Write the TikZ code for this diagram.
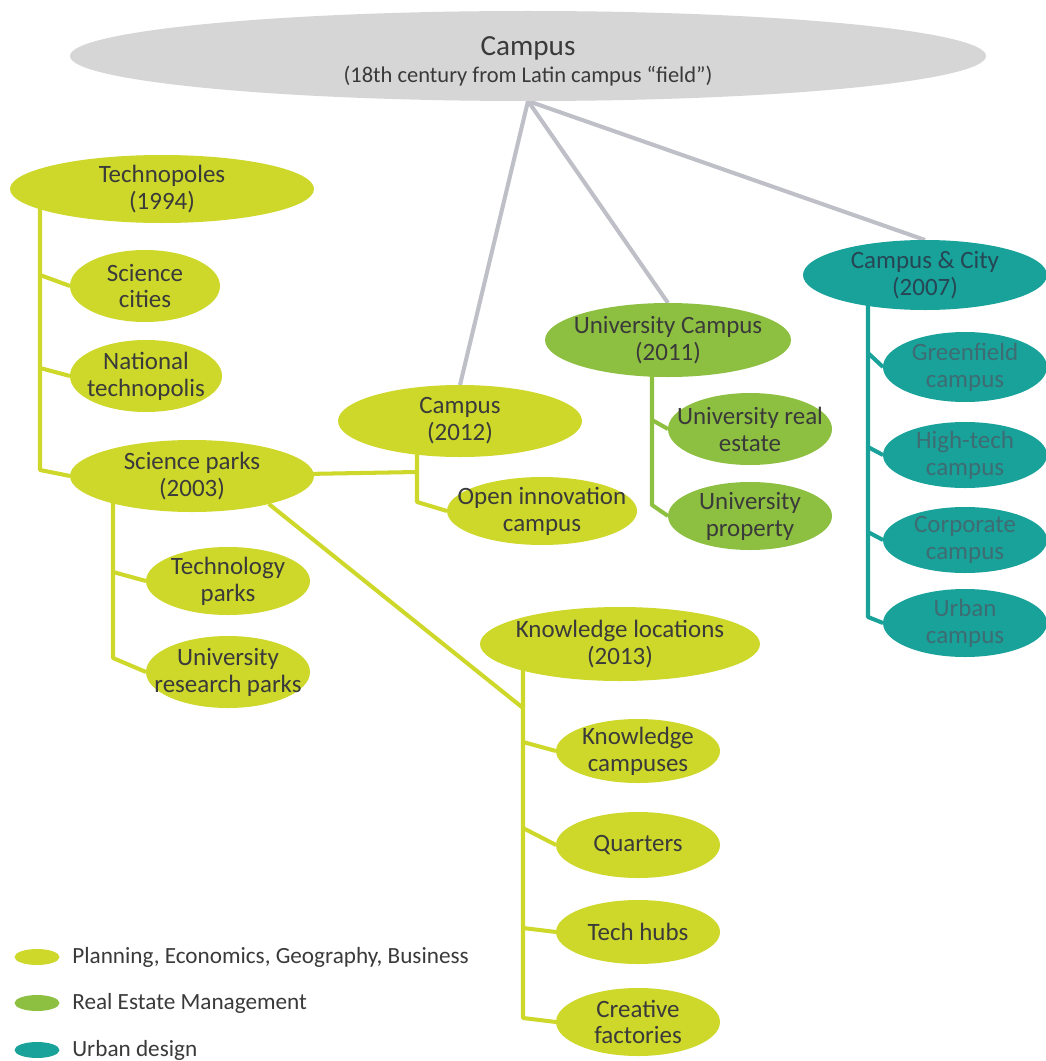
\documentclass[tikz,border=0pt]{standalone}
\usepackage{fontspec}
\setmainfont{Carlito}
\usetikzlibrary{shapes.geometric,backgrounds}

% one drawing unit = one pixel of the layout grid
\newlength\upx
\setlength\upx{0.02cm}

\definecolor{lime}{RGB}{205,216,42}
\definecolor{leaf}{RGB}{141,192,64}
\definecolor{sea}{RGB}{24,162,154}
\definecolor{mist}{RGB}{214,214,214}
\definecolor{wire}{RGB}{190,191,199}
\definecolor{ink}{RGB}{58,58,58}
\definecolor{seaink}{RGB}{38,70,84}
\definecolor{seasub}{RGB}{62,108,114}

\tikzset{
  blob/.style={ellipse, inner sep=0pt, outer sep=0pt, draw=none},
  limeblob/.style={blob, fill=lime},
  leafblob/.style={blob, fill=leaf},
  seablob/.style={blob, fill=sea},
  mistblob/.style={blob, fill=mist},
  lbl/.style={align=center, text=ink, inner sep=0pt,
              font=\fontsize{14.2}{15.3}\selectfont},
  legtxt/.style={anchor=west, text=ink, inner sep=0pt,
                 font=\fontsize{13.2}{15}\selectfont},
  link/.style={line width=2.3pt, line join=round},
  limeline/.style={link, draw=lime},
  leafline/.style={link, draw=leaf},
  sealine/.style={link, draw=sea},
  wireline/.style={link, draw=wire},
}

% \bubble[label options]{name}{fill style}{x,y}{width}{height}{text}
\newcommand\bubble[7][]{%
  \node[#3, minimum width=#5\upx, minimum height=#6\upx] (#2) at (#4) {};
  \node[lbl,#1] (#2-txt) at (#2.center) {#7};}

\begin{document}
\begin{tikzpicture}[x=0.02cm, y=-0.02cm]
\useasboundingbox (0,0) rectangle (1045,1061);

% ---- root ----
\bubble[yshift=-3.2pt]{top}{mistblob}{528,56}{916}{90}{%
  {\fontsize{16.6}{17}\selectfont Campus}\\[0pt]
  {\fontsize{12.8}{14}\selectfont (18th century from Latin campus “field”)}}

% ---- technopoles branch ----
\bubble{techno}{limeblob}{162,189}{304}{68}{Technopoles\\(1994)}
\bubble{cities}{limeblob}{145,286}{150}{72}{Science\\cities}
\bubble{natl}{limeblob}{146,376}{152}{72}{National\\technopolis}
\bubble{sparks}{limeblob}{192,476}{244}{72}{Science parks\\(2003)}
\bubble{tpark}{limeblob}{228,581}{164}{68}{Technology\\parks}
\bubble{urp}{limeblob}{228,672}{164}{72}{University\\research parks}

% ---- campus 2012 ----
\bubble{cmp}{limeblob}{460,421}{244}{72}{Campus\\(2012)}
\bubble{open}{limeblob}{542,511}{190}{68}{Open innovation\\campus}

% ---- knowledge locations ----
\bubble{kloc}{limeblob}{620,644}{280}{74}{Knowledge locations\\(2013)}
\bubble{kcamp}{limeblob}{638,751}{164}{64}{Knowledge\\campuses}
\bubble{quart}{limeblob}{638,845}{164}{66}{Quarters}
\bubble{thubs}{limeblob}{638,932}{164}{64}{Tech hubs}
\bubble{creat}{limeblob}{638,1022}{164}{68}{Creative\\factories}

% ---- university campus ----
\bubble{ucamp}{leafblob}{668,340}{246}{74}{University Campus\\(2011)}
\bubble{ure}{leafblob}{750,429}{164}{72}{University real\\estate}
\bubble{uprop}{leafblob}{750,516}{164}{68}{University\\property}

% ---- campus & city ----
\bubble[text=seaink]{cc}{seablob}{925,275}{244}{70}{Campus \& City\\(2007)}
\bubble[text=seasub]{green}{seablob}{965,367}{164}{70}{Greenfield\\campus}
\bubble[text=seasub]{htech}{seablob}{965,455}{164}{66}{High-tech\\campus}
\bubble[text=seasub]{corp}{seablob}{965,540}{164}{66}{Corporate\\campus}
\bubble[text=seasub]{urban}{seablob}{965,623}{164}{68}{Urban\\campus}

% ---- legend ----
\node[limeblob, minimum width=45\upx, minimum height=16\upx] (leg1) at (37,957) {};
\node[legtxt] (leg1-txt) at (72,957) {Planning, Economics, Geography, Business};
\node[leafblob, minimum width=45\upx, minimum height=16\upx] (leg2) at (37,1003) {};
\node[legtxt] (leg2-txt) at (72,1003) {Real Estate Management};
\node[seablob, minimum width=45\upx, minimum height=16\upx] (leg3) at (37,1050) {};
\node[legtxt] (leg3-txt) at (72,1050) {Urban design};

% ---- junction points on the trunks ----
\coordinate (t1) at (40,275);
\coordinate (t2) at (40,368);
\coordinate (t3) at (40,470);
\coordinate (s1) at (113,572);
\coordinate (s2) at (113,658);
\coordinate (c1) at (417,472);
\coordinate (c2) at (417,502);
\coordinate (k0) at (523,708);
\coordinate (k1) at (523,742);
\coordinate (k2) at (523,828);
\coordinate (k3) at (523,928);
\coordinate (k4) at (523,1018);
\coordinate (u1) at (652,420);
\coordinate (u2) at (652,505);
\coordinate (g1) at (868,353);
\coordinate (g2) at (868,447);
\coordinate (g3) at (868,532);
\coordinate (g4) at (868,617);

\begin{scope}[on background layer]
  \fill[white] (0,0) rectangle (1045,1061);

  % root to the three families
  \draw[wireline] (top.south) -- (cmp.north);
  \draw[wireline] (top.south) -- (ucamp.north);
  \draw[wireline] (top.south) -- (cc.north);

  % technopoles trunk
  \draw[limeline] (techno.center -| t1) -- (t3) -- (sparks.west);
  \draw[limeline] (t1) -- (cities.west);
  \draw[limeline] (t2) -- (natl.west);

  % science parks trunk
  \draw[limeline] (sparks.center -| s1) -- (s2) -- (urp.west);
  \draw[limeline] (s1) -- (tpark.west);

  % science parks to campus (2012)
  \draw[limeline] (sparks.center) -- (c1);
  \draw[limeline] (cmp.center -| c1) -- (c2) -- (open.west);

  % science parks to knowledge locations
  \draw[limeline] (sparks.-20) -- (k0);
  \draw[limeline] (kloc.center -| k0) -- (k4) -- (creat.west);
  \draw[limeline] (k1) -- (kcamp.west);
  \draw[limeline] (k2) -- (quart.west);
  \draw[limeline] (k3) -- (thubs.west);

  % university campus trunk
  \draw[leafline] (ucamp.center -| u1) -- (u2) -- (uprop.west);
  \draw[leafline] (u1) -- (ure.west);

  % campus & city trunk
  \draw[sealine] (cc.center -| g1) -- (g4) -- (urban.west);
  \draw[sealine] (g1) -- (green.west);
  \draw[sealine] (g2) -- (htech.west);
  \draw[sealine] (g3) -- (corp.west);
\end{scope}
\end{tikzpicture}
\end{document}
